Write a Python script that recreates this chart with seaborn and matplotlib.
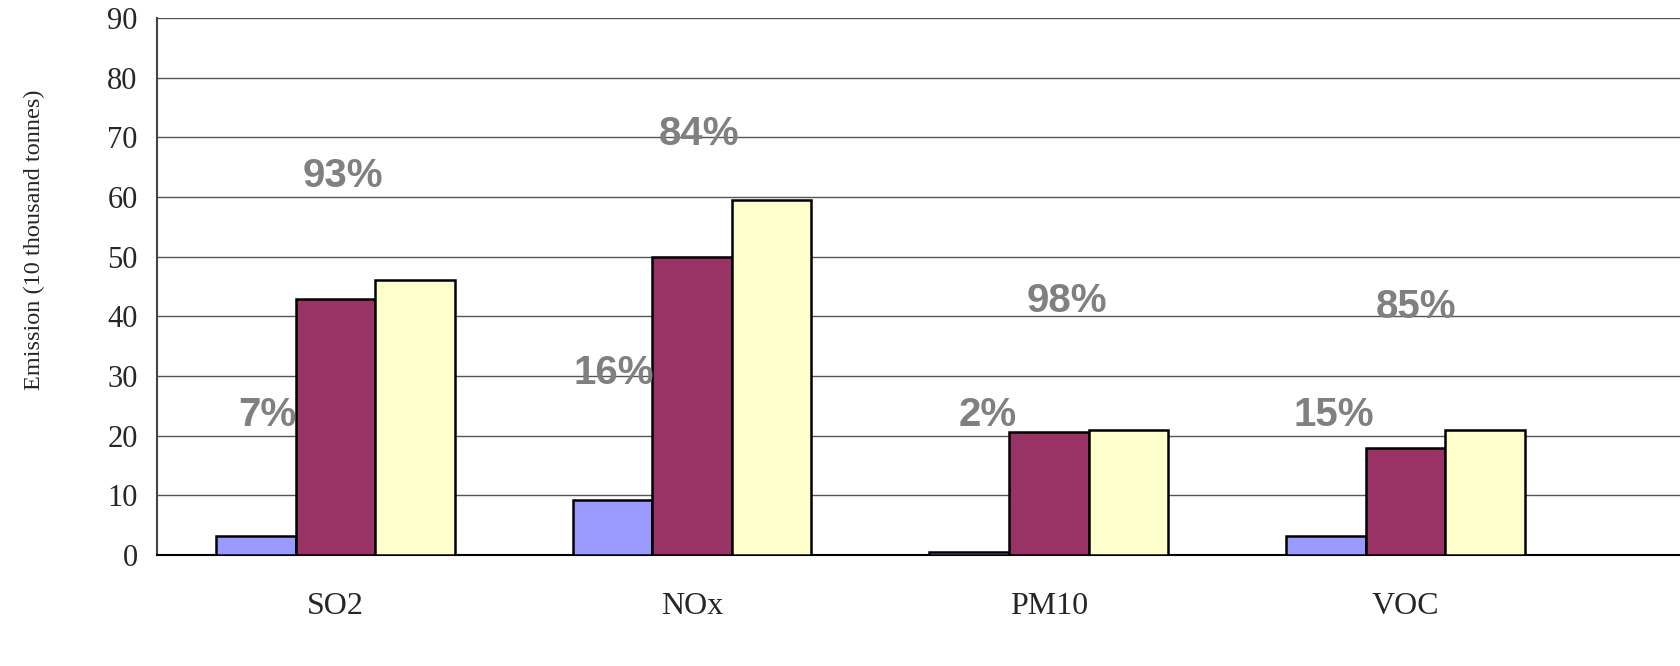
import pandas as pd
import matplotlib
matplotlib.use('Agg')
import matplotlib.pyplot as plt
import seaborn as sns

# Values
pollutants = ['SO2', 'NOx', 'PM10', 'VOC']
series = ['Part A', 'Part B', 'Total']
part_a = [3.2, 9.2, 0.5, 3.2]
part_b = [42.9, 49.9, 20.6, 17.9]
total = [46.1, 59.5, 21.0, 21.0]
share_a = ['7%', '16%', '2%', '15%']
share_b = ['93%', '84%', '98%', '85%']
colors = ['#9999FF', '#993366', '#FFFFCC']

data = pd.DataFrame({
    'Pollutant': pollutants * 3,
    'Series': [s for s in series for _ in pollutants],
    'Emission': part_a + part_b + total,
})

sns.set_style('white')
plt.rcParams['font.family'] = ['Liberation Serif', 'DejaVu Serif']

fig = plt.figure(figsize=(16.8, 6.66), dpi=100)
ax = fig.add_axes([157 / 1680, 111 / 666, 1 - 157 / 1680, 537 / 666])

sns.barplot(x='Pollutant', y='Emission', hue='Series', data=data, order=pollutants,
            hue_order=series, palette=colors, width=0.67, edgecolor='black',
            linewidth=1.8, saturation=1, legend=False, ax=ax, zorder=3)

ax.set_ylim(0, 90)
ax.set_xlim(-0.5, 3.77)
ax.set_yticks(range(0, 91, 10))
ax.yaxis.grid(True, color='#555555', linewidth=1.0, zorder=0)
ax.set_axisbelow(True)

# category separator ticks on the x axis
ax.set_xticks([0.5, 1.5, 2.5], minor=True)
ax.tick_params(axis='x', which='minor', length=8, width=1, color='#555555', direction='out')
ax.tick_params(axis='x', which='major', length=0, pad=27, labelsize=23)
ax.tick_params(axis='y', length=5, width=1, direction='in', color='#555555', pad=14, labelsize=22)

for side in ['top', 'right']:
    ax.spines[side].set_visible(False)
ax.spines['left'].set_color('#444444')
ax.spines['left'].set_linewidth(1.5)
ax.spines['bottom'].set_color('black')
ax.spines['bottom'].set_linewidth(1.5)

ax.set_xlabel('')
ax.set_ylabel('Emission (10 thousand tonnes)', fontsize=17.5)
ax.yaxis.set_label_coords(-0.0735, 0.587)

# share labels
offs_a = [-0.19, -0.22, -0.17, -0.20]
offs_b = [0.02, 0.02, 0.05, 0.03]
y_a = [23.5, 30.5, 23.5, 23.5]
y_b = [63.5, 70.5, 42.5, 41.5]
for i in range(len(pollutants)):
    ax.text(i + offs_a[i], y_a[i], share_a[i], ha='center', va='center', fontsize=29,
            fontweight='bold', color='#808080', family=['Liberation Sans'], zorder=4)
    ax.text(i + offs_b[i], y_b[i], share_b[i], ha='center', va='center', fontsize=29,
            fontweight='bold', color='#808080', family=['Liberation Sans'], zorder=4)

plt.savefig('out.png', dpi=100)
